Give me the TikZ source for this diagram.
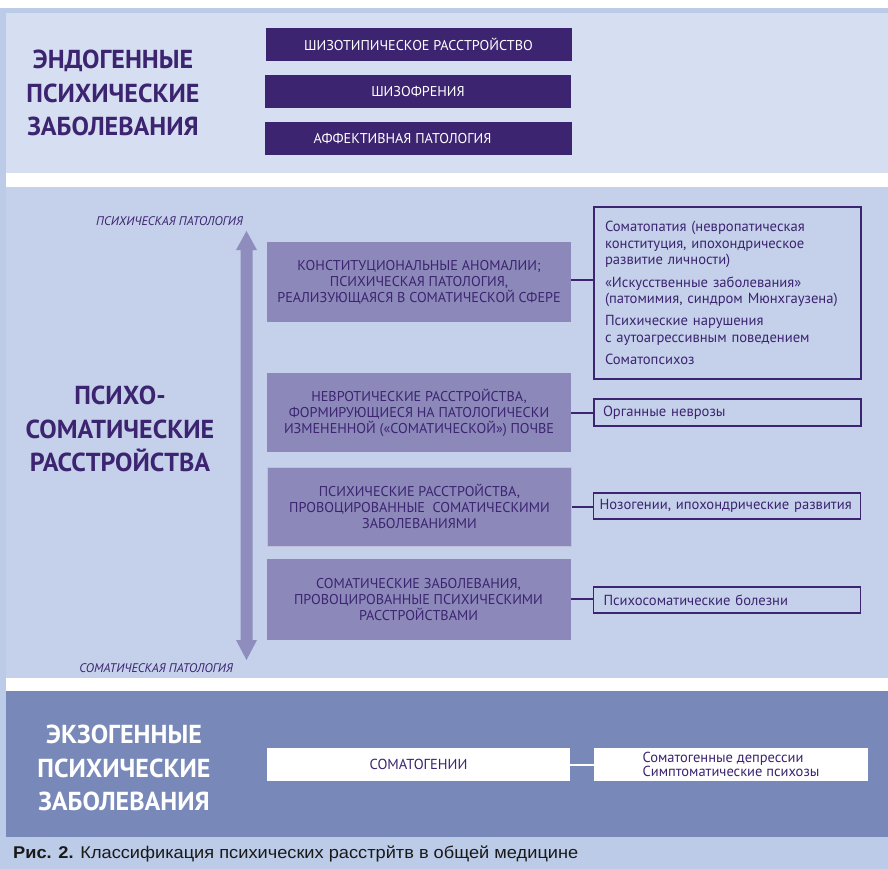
\documentclass[tikz,border=0pt]{standalone}
\usepackage{fontspec}
\setmainfont{PT Sans}
\newfontfamily\capfont{Liberation Sans}
\usetikzlibrary{calc}
\definecolor{bordc}{HTML}{BCCBE7}
\definecolor{topc}{HTML}{D6DFF2}
\definecolor{midc}{HTML}{C5D1EA}
\definecolor{botc}{HTML}{7888B8}
\definecolor{darkp}{HTML}{3C2470}
\definecolor{boxc}{HTML}{8C89BA}
\definecolor{arrc}{HTML}{8E8DBE}
\begin{document}
\begin{tikzpicture}[x=1pt,y=-1pt,
  title/.style={font=\bfseries\fontsize{26}{33.5}\selectfont, align=center, inner sep=0pt, anchor=north},
  darkbox/.style={fill=darkp, text=white, minimum width=306pt, minimum height=33pt, inner sep=0pt, font=\fontsize{14.2}{16}\selectfont},
  midbox/.style={fill=boxc, text=darkp, minimum width=304pt, minimum height=80pt, inner sep=0pt, align=center, font=\fontsize{14.2}{16}\selectfont},
  outbox/.style={draw=darkp, line width=1.2pt, text=darkp, minimum width=267pt, font=\fontsize{14.6}{16.7}\selectfont, align=left},
  whitebox/.style={fill=white, text=darkp, minimum height=33pt, inner sep=0pt, font=\fontsize{14.5}{13.5}\selectfont},
  link/.style={draw=darkp, line width=2pt},
  scalelbl/.style={text=darkp, font=\itshape\fontsize{12.5}{14}\selectfont, inner sep=0pt, anchor=base east}
]
\useasboundingbox (0,0) rectangle (888,869);
% background panels
\fill[white] (0,0) rectangle (888,869);
\fill[bordc] (0,8) rectangle (888,869);
\fill[topc] (6,13) rectangle (888,173);
\fill[white] (6,173) rectangle (888,187);
\fill[midc] (6,187) rectangle (888,678);
\fill[white] (6,678) rectangle (888,691);
\fill[botc] (6,691) rectangle (888,837);

% top section
\node[title, text=darkp] (endo) at (113,50) {ЭНДОГЕННЫЕ\\ПСИХИЧЕСКИЕ\\ЗАБОЛЕВАНИЯ};
\node[darkbox] (schtyp) at (418.5,44.5) {ШИЗОТИПИЧЕСКОЕ РАССТРОЙСТВО};
\node[darkbox] (schiz) at (418,91.5) {ШИЗОФРЕНИЯ};
\node[darkbox, minimum width=307pt] (affect) at (418.5,138.5) {\hspace*{-16pt}АФФЕКТИВНАЯ ПАТОЛОГИЯ\hspace*{16pt}};

% middle section
\node[title, text=darkp] (psycho) at (120,386) {ПСИХО-\\СОМАТИЧЕСКИЕ\\РАССТРОЙСТВА};
\coordinate (atop) at (246.5,231);
\coordinate (abot) at (246.5,660);
\fill[arrc] (240.5,250) -- (236,250) -- (atop) -- (257,250) -- (252.5,250) -- (252.5,640) -- (257,640) -- (abot) -- (236,640) -- (240.5,640) -- cycle;
\node[scalelbl] (psypat) at (243,225) {ПСИХИЧЕСКАЯ ПАТОЛОГИЯ};
\node[scalelbl] (sompat) at (233,672) {СОМАТИЧЕСКАЯ ПАТОЛОГИЯ};

\node[midbox] (ba) at (419,282) {КОНСТИТУЦИОНАЛЬНЫЕ АНОМАЛИИ;\\ПСИХИЧЕСКАЯ ПАТОЛОГИЯ,\\РЕАЛИЗУЮЩАЯСЯ В СОМАТИЧЕСКОЙ СФЕРЕ};
\node[midbox, minimum height=79pt] (bb) at (419,412.5) {НЕВРОТИЧЕСКИЕ РАССТРОЙСТВА,\\ФОРМИРУЮЩИЕСЯ НА ПАТОЛОГИЧЕСКИ\\ИЗМЕНЕННОЙ («СОМАТИЧЕСКОЙ») ПОЧВЕ};
\node[midbox, minimum height=79pt, draw=white!45!boxc, line width=0.6pt] (bc) at (419.5,506.5) {ПСИХИЧЕСКИЕ РАССТРОЙСТВА,\\ПРОВОЦИРОВАННЫЕ \ СОМАТИЧЕСКИМИ\\ЗАБОЛЕВАНИЯМИ};
\node[midbox, minimum height=81pt] (bd) at (418.5,599.5) {СОМАТИЧЕСКИЕ ЗАБОЛЕВАНИЯ,\\ПРОВОЦИРОВАННЫЕ ПСИХИЧЕСКИМИ\\РАССТРОЙСТВАМИ};

\node[outbox, minimum height=172pt, text width=245pt, inner xsep=11pt] (ra) at (727.5,293) {Соматопатия (невропатическая\\конституция, ипохондрическое\\развитие личности)\\[5.5pt]«Искусственные заболевания»\\(патомимия, синдром Мюнхгаузена)\\[5.5pt]Психические нарушения\\с аутоагрессивным поведением\\[5.5pt]Соматопсихоз};
\node[outbox, minimum height=27pt, text width=249pt, inner xsep=9pt, inner ysep=0pt] (rb) at (727.5,412.5) {Органные неврозы};
\node[outbox, minimum height=26pt, text width=255pt, inner xsep=6pt, inner ysep=0pt] (rc) at (727,506) {\mbox{Нозогении, ипохондрические развития}};
\node[outbox, minimum height=26pt, text width=247pt, inner xsep=10pt, inner ysep=0pt] (rd) at (727,600) {Психосоматические болезни};

\draw[link] (ba.east |- 0,280) -- (ra.west |- 0,280);
\draw[link] (bb.east |- 0,413) -- (rb.west |- 0,413);
\draw[link] (bc.east |- 0,507) -- (rc.west |- 0,507);
\draw[link] (bd.east |- 0,599) -- (rd.west |- 0,599);

% bottom section
\node[title, text=white] (exo) at (124,725) {ЭКЗОГЕННЫЕ\\ПСИХИЧЕСКИЕ\\ЗАБОЛЕВАНИЯ};
\node[whitebox, minimum width=303pt] (somg) at (418.5,764.5) {СОМАТОГЕНИИ};
\node[whitebox, minimum width=274pt, align=left] (somr) at (731,764.5) {Соматогенные депрессии\\Симптоматические психозы};
\draw[white, line width=2pt] (somg.east) -- (somr.west);

% caption
\node[anchor=base west, inner sep=0pt, text=black!90, font=\capfont\fontsize{17}{20}\selectfont] (cap) at (13,858) {\resizebox{565pt}{\height}{\textbf{Рис. 2.} Классификация психических расстрйтв в общей медицине}};
\end{tikzpicture}
\end{document}
